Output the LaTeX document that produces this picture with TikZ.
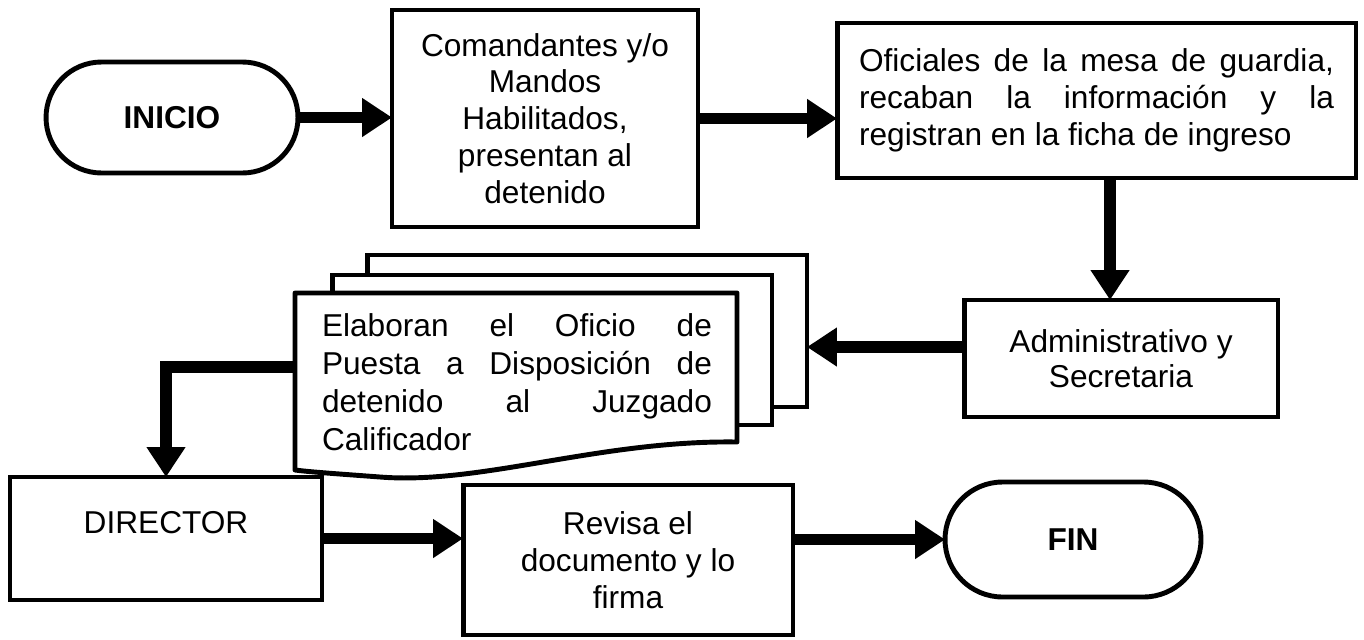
\documentclass[tikz,border=0pt]{standalone}
\usepackage{fontspec}
\setmainfont{Liberation Sans}
\usetikzlibrary{arrows.meta,shapes.misc,calc}
\begin{document}
\begin{tikzpicture}[x=0.02cm,y=-0.02cm,
  box/.style={draw, line width=2.8pt, inner sep=0pt, outer sep=0pt, align=center, fill=white},
  pill/.style={box, rounded rectangle},
  page/.style={draw, line width=2.8pt, fill=white, inner sep=0pt, outer sep=0pt},
  txt/.style={inner sep=0pt, outer sep=0pt},
  arr/.style={line width=6.5pt, -{Triangle[length=17pt, width=21pt]}},
  f/.style={font=\fontsize{18}{#1}\selectfont}
]
\useasboundingbox (0,0) rectangle (1364,639);

% start
\node[pill, minimum width=5.04cm, minimum height=2.22cm,
      font=\bfseries\fontsize{18}{22}\selectfont] (inicio) at (172,117.5) {INICIO};

\node[box, f=21, minimum width=6.12cm, minimum height=4.34cm] (coman) at (545,118.5)
  {Comandantes y/o\\Mandos\\Habilitados,\\presentan al\\detenido};

\node[box, f=21, minimum width=10.38cm, minimum height=3.1cm] (ofic) at (1096.5,100.5)
  {\makebox[9.5cm][s]{Oficiales de la mesa de guardia,}\\
   \makebox[9.5cm][s]{recaban la información y la}\\
   \makebox[9.5cm][l]{registran en la ficha de ingreso}};

\node[box, f=19.9, minimum width=6.28cm, minimum height=2.34cm] (admin) at (1121,358.5)
  {Administrativo y\\Secretaria};

% document stack
\node[page, minimum width=8.8cm, minimum height=3.04cm] (page3) at (587,331) {};
\node[page, minimum width=8.8cm, minimum height=3.0cm] (page2) at (552,350) {};
\draw[line width=2.8pt, fill=white, line join=round]
  (295,293) -- (737,293) -- (737,442)
  .. controls (600,440) and (480,485) .. (380,477)
  .. controls (340,474) and (310,472) .. (295,470) -- cycle;
\coordinate (fl) at (295,367);
\node[txt, f=21.6, align=left] (doc) at (517,382)
  {\makebox[7.8cm][s]{Elaboran el Oficio de}\\
   \makebox[7.8cm][s]{Puesta a Disposición de}\\
   \makebox[7.8cm][s]{detenido al Juzgado}\\
   \makebox[7.8cm][l]{Calificador}};

\node[box, minimum width=6.24cm, minimum height=2.46cm] (dir) at (166,538.5) {};
\node[txt, f=22] (dirt) at (166,523) {DIRECTOR};

\node[box, f=21, minimum width=6.6cm, minimum height=3cm] (rev) at (628,560)
  {Revisa el\\documento y lo\\firma};

\node[pill, minimum width=5.12cm, minimum height=2.3cm,
      font=\bfseries\fontsize{18}{22}\selectfont] (fin) at (1073,539.5) {FIN};

% connectors
\draw[arr] (inicio.east) -- (inicio.east -| coman.west);
\draw[arr] (coman.east) -- (coman.east -| ofic.west);
\coordinate (vx) at (1110,0);
\draw[arr] (ofic.south -| vx) -- (admin.north -| vx);
\draw[arr] ([yshift=0.23cm]admin.west) coordinate (ay) -- (ay -| page3.east);
\draw[arr] (fl) -| (dir.north);
\draw[arr] (dir.east) -- (dir.east -| rev.west);
\draw[arr] (fin.west -| rev.east) -- (fin.west);
\end{tikzpicture}
\end{document}
